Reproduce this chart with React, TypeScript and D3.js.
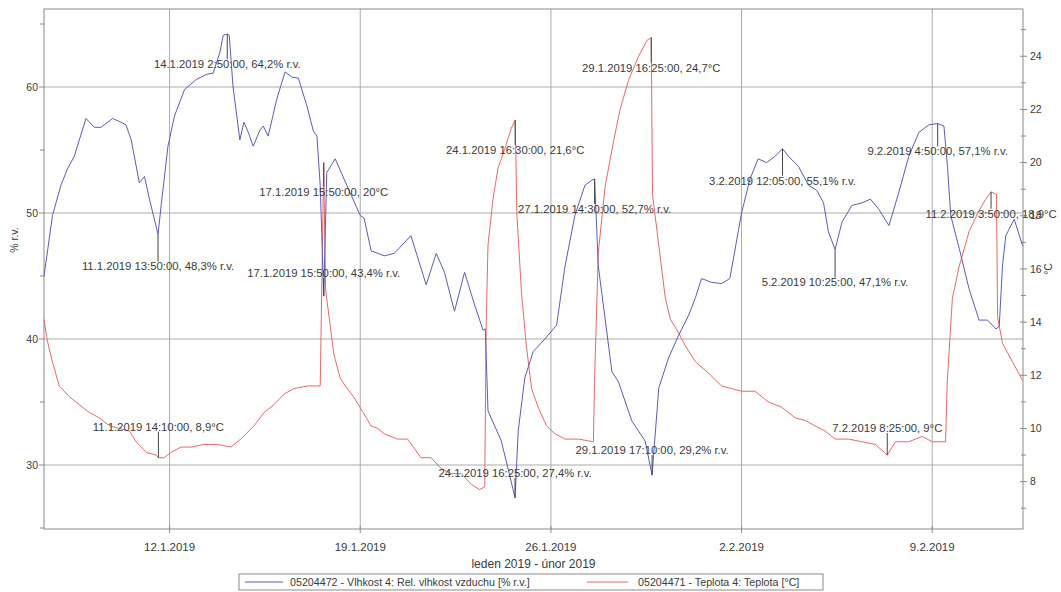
import React from "react";
import * as d3 from "d3";

// time = day number counted from 1 January 2019 (32 = 1 February)
const humDays = [7.39,7.70,8.01,8.25,8.50,8.93,9.24,9.48,9.91,10.22,10.40,10.59,10.89,11.08,11.26,11.576,11.69,11.94,12.18,12.55,12.98,13.35,13.60,13.84,13.97,14.118,14.19,14.33,14.58,14.73,14.89,15.07,15.32,15.44,15.62,15.93,16.24,16.48,16.73,17.04,17.28,17.41,17.53,17.66,17.77,18.08,18.63,19.00,19.14,19.40,19.88,20.25,20.86,21.42,21.79,22.09,22.46,22.83,23.20,23.51,23.59,23.69,24.18,24.684,24.80,25.04,25.35,25.78,26.09,26.21,26.52,26.88,27.25,27.50,27.604,27.74,28.24,28.48,28.97,29.46,29.715,29.96,30.32,30.69,31.06,31.31,31.53,31.89,32.26,32.57,33.00,33.31,33.61,33.92,34.23,34.503,34.72,35.09,35.46,35.76,36.01,36.19,36.434,36.69,37.05,37.42,37.73,38.04,38.41,38.77,39.14,39.51,39.88,40.201,40.43,40.56,40.68,40.99,41.35,41.72,42.03,42.34,42.46,42.58,42.70,43.01,43.32];
const humValues = [45.0,49.8,52.2,53.5,54.5,57.5,56.8,56.8,57.5,57.2,57.0,55.8,52.4,52.9,51.1,48.3,50.6,55.3,57.7,59.8,60.6,61.0,61.1,62.7,64.1,64.2,64.1,60.0,55.8,57.2,56.4,55.3,56.6,56.9,56.1,59.0,61.2,60.8,60.7,58.5,56.5,56.1,52.2,43.4,53.2,54.3,51.6,49.8,49.6,47.0,46.6,46.8,48.2,44.3,46.8,45.3,42.2,45.3,42.7,40.7,40.8,34.3,31.9,27.4,32.7,36.9,39.0,40.0,40.8,41.1,45.8,49.8,52.2,52.6,52.7,45.8,37.4,36.6,33.5,31.9,29.2,36.1,38.5,40.3,41.9,43.3,44.8,44.5,44.4,44.8,50.0,52.7,54.3,54.0,54.5,55.1,54.5,53.7,52.2,51.8,50.8,48.5,47.1,49.3,50.6,50.8,51.1,50.3,49.0,51.6,54.5,56.4,57.0,57.1,56.9,53.7,49.8,47.2,44.0,41.5,41.5,40.8,41.0,45.8,48.2,49.5,47.4];

const tempDays = [7.39,7.51,7.70,7.95,8.31,8.68,9.05,9.42,9.79,10.16,10.53,10.77,11.14,11.50,11.59,11.80,12.05,12.42,12.78,13.27,13.76,14.25,14.61,15.10,15.47,15.84,16.21,16.57,17.06,17.53,17.66,17.70,17.73,18.03,18.26,18.45,18.75,19.11,19.39,19.64,19.88,20.37,20.74,21.23,21.60,21.97,22.34,22.71,23.08,23.38,23.57,23.62,23.69,23.87,24.06,24.30,24.55,24.688,24.75,24.92,25.10,25.29,25.53,25.84,26.15,26.52,27.01,27.56,27.60,27.74,27.99,28.30,28.54,28.85,29.22,29.53,29.684,29.73,29.96,30.20,30.39,30.63,30.94,31.31,31.77,32.26,32.63,33.00,33.49,33.98,34.47,34.97,35.33,35.70,36.07,36.44,36.93,37.42,37.91,38.35,38.65,39.14,39.63,40.00,40.49,40.55,40.74,40.99,41.35,41.72,41.95,42.16,42.36,42.40,42.58,42.95,43.32];
const tempValues = [14.1,13.3,12.5,11.6,11.2,10.9,10.6,10.4,10.1,10.0,9.9,9.5,9.1,9.0,8.9,8.9,9.1,9.3,9.3,9.4,9.4,9.3,9.6,10.1,10.6,10.9,11.3,11.5,11.6,11.6,20.0,17.0,15.2,12.8,11.9,11.6,11.2,10.6,10.1,10.0,9.8,9.6,9.6,8.9,8.9,8.5,8.3,8.3,7.9,7.7,7.8,13.7,16.9,18.6,19.8,20.5,21.3,21.6,18.1,15.1,13.1,11.5,10.8,10.1,9.8,9.6,9.6,9.5,11.7,16.6,19.1,20.8,22.0,23.1,24.0,24.6,24.7,18.8,16.9,14.9,14.1,13.7,13.1,12.5,12.1,11.6,11.5,11.4,11.4,11.0,10.8,10.4,10.3,10.1,9.9,9.6,9.6,9.5,9.4,9.0,9.5,9.5,9.7,9.5,9.5,11.7,14.9,16.1,17.4,18.2,18.6,18.9,18.8,14.2,13.2,12.5,11.8];

const annDays = [14.118,11.576,17.66,17.66,11.59,24.688,24.684,27.604,29.684,29.715,34.503,36.434,38.35,40.201,42.16];
const annSeries = ["hum","hum","temp","hum","temp","temp","hum","hum","temp","hum","hum","hum","temp","hum","temp"];
const annValues = [64.2,48.3,20.0,43.4,8.9,21.6,27.4,52.7,24.7,29.2,55.1,47.1,9.0,57.1,18.9];
const annTexts = [
  "14.1.2019 2:50:00, 64,2% r.v.",
  "11.1.2019 13:50:00, 48,3% r.v.",
  "17.1.2019 15:50:00, 20°C",
  "17.1.2019 15:50:00, 43,4% r.v.",
  "11.1.2019 14:10:00, 8,9°C",
  "24.1.2019 16:30:00, 21,6°C",
  "24.1.2019 16:25:00, 27,4% r.v.",
  "27.1.2019 14:30:00, 52,7% r.v.",
  "29.1.2019 16:25:00, 24,7°C",
  "29.1.2019 17:10:00, 29,2% r.v.",
  "3.2.2019 12:05:00, 55,1% r.v.",
  "5.2.2019 10:25:00, 47,1% r.v.",
  "7.2.2019 8:25:00, 9°C",
  "9.2.2019 4:50:00, 57,1% r.v.",
  "11.2.2019 3:50:00, 18,9°C",
];
// layout: vertical offset of each label from its point (px)
const annOffsets = [30,32,29,-23,-31,30,-25,30,30,-25,32,33,-27,28,22];

const xTickDays = [12, 19, 26, 33, 40];
const xTickLabels = ["12.1.2019", "19.1.2019", "26.1.2019", "2.2.2019", "9.2.2019"];
const leftTicks = [30, 40, 50, 60];
const leftMinorTicks = [25, 35, 45, 55, 65];
const rightTicks = [8, 10, 12, 14, 16, 18, 20, 22, 24];
const rightMinorTicks = [7, 9, 11, 13, 15, 17, 19, 21, 23, 25];

const xTitle = "leden 2019 - únor 2019";
const leftTitle = "% r.v.";
const rightTitle = "°C";
const legendHum = "05204472 - Vlhkost 4: Rel. vlhkost vzduchu [% r.v.]";
const legendTemp = "05204471 - Teplota 4: Teplota [°C]";

const W = 1061, H = 592;
const L = 44, R = 1023, T = 9, B = 529;
const BLUE = "#5c5cb8";
const RED = "#e46a6a";
const GRID = "#ababab";
const AXIS = "#8a8a8a";
const TXT = "#3a3a3a";
const FONT = "'Liberation Sans', Arial, sans-serif";

const dayToDate = (d: number) => new Date(new Date(2019, 0, 1).getTime() + (d - 1) * 86400000);

export default function App() {
  const x = d3.scaleTime().domain([dayToDate(7.389), dayToDate(43.333)]).range([L, R]);
  const yBase = d3.scaleLinear().domain([30, 60]).range([465, 87]);
  const hTop = yBase.invert(T), hBot = yBase.invert(B);
  const yL = d3.scaleLinear().domain([hBot, hTop]).range([B, T]);
  const toT = (h: number) => (h - 11.8) / 2.11;
  const yR = d3.scaleLinear().domain([toT(hBot), toT(hTop)]).range([B, T]);

  const humLine = d3.line<number>().x((_, i) => x(dayToDate(humDays[i]))).y((v) => yL(v));
  const tempLine = d3.line<number>().x((_, i) => x(dayToDate(tempDays[i]))).y((v) => yR(v));

  return (
    <svg width={W} height={H} style={{ position: "absolute", left: 0, top: 0, background: "#fff" }} fontFamily={FONT}>
      <rect x={0} y={0} width={W} height={H} fill="#fff" />
      {/* grid */}
      {xTickDays.map((d, i) => (
        <line key={"gx" + i} x1={x(dayToDate(d))} x2={x(dayToDate(d))} y1={T} y2={B} stroke={GRID} strokeWidth={1} />
      ))}
      {leftTicks.map((v, i) => (
        <line key={"gy" + i} x1={L} x2={R} y1={yL(v)} y2={yL(v)} stroke={GRID} strokeWidth={1} />
      ))}
      {/* frame */}
      <rect x={L} y={T} width={R - L} height={B - T} fill="none" stroke={AXIS} strokeWidth={1} />

      {/* left axis */}
      {leftTicks.map((v, i) => (
        <g key={"lt" + i}>
          <line x1={L - 5} x2={L} y1={yL(v)} y2={yL(v)} stroke={AXIS} />
          <text x={L - 6} y={yL(v)} dy="0.35em" textAnchor="end" fontSize={10.5} fill={TXT}>{v}</text>
        </g>
      ))}
      {leftMinorTicks.filter((v) => v > hBot && v < hTop).map((v, i) => (
        <line key={"lm" + i} x1={L - 4} x2={L} y1={yL(v)} y2={yL(v)} stroke={AXIS} />
      ))}
      <text transform={`translate(14,240) rotate(-90)`} textAnchor="middle" dy="0.35em" fontSize={10.5} fill={TXT}>{leftTitle}</text>

      {/* right axis */}
      {rightTicks.map((v, i) => (
        <g key={"rt" + i}>
          <line x1={R - 3} x2={R + 4} y1={yR(v)} y2={yR(v)} stroke={AXIS} />
          <text x={R + 7} y={yR(v)} dy="0.35em" textAnchor="start" fontSize={10.5} fill={TXT}>{v}</text>
        </g>
      ))}
      {rightMinorTicks.map((v, i) => (
        <line key={"rm" + i} x1={R - 2} x2={R + 3} y1={yR(v)} y2={yR(v)} stroke={AXIS} />
      ))}
      <text transform={`translate(1048,${yR(16)}) rotate(-90)`} textAnchor="middle" dy="0.35em" fontSize={10.5} fill={TXT}>{rightTitle}</text>

      {/* x axis */}
      {xTickDays.map((d, i) => (
        <g key={"xt" + i}>
          <line x1={x(dayToDate(d))} x2={x(dayToDate(d))} y1={B - 3} y2={B + 4} stroke={AXIS} />
          <text x={x(dayToDate(d))} y={B + 18} dy="0.35em" textAnchor="middle" fontSize={11.5} fill={TXT}>{xTickLabels[i]}</text>
        </g>
      ))}
      <text x={(L + R) / 2} y={B + 35} dy="0.35em" textAnchor="middle" fontSize={12} fill={TXT}>{xTitle}</text>

      {/* series */}
      <path d={tempLine(tempValues) || ""} fill="none" stroke={RED} strokeWidth={1} />
      <path d={humLine(humValues) || ""} fill="none" stroke={BLUE} strokeWidth={1} />

      {/* annotations */}
      {annTexts.map((t, i) => {
        const px = x(dayToDate(annDays[i]));
        const py = annSeries[i] === "hum" ? yL(annValues[i]) : yR(annValues[i]);
        const off = annOffsets[i];
        const ty = py + off;
        const end = ty - Math.sign(off) * 5;
        return (
          <g key={"an" + i}>
            <line x1={px} x2={px} y1={py} y2={end} stroke="#444" strokeWidth={1} />
            <text x={px} y={ty} dy="0.35em" textAnchor="middle" fontSize={11.3} fill={TXT}>{t}</text>
          </g>
        );
      })}

      {/* legend */}
      <rect x={239} y={574} width={584} height={16} fill="#fff" stroke={AXIS} strokeWidth={1} />
      <line x1={245} x2={283} y1={582} y2={582} stroke={BLUE} strokeWidth={1} />
      <text x={290} y={582} dy="0.35em" fontSize={10.7} fill={TXT}>{legendHum}</text>
      <line x1={587} x2={628} y1={582} y2={582} stroke={RED} strokeWidth={1} />
      <text x={638} y={582} dy="0.35em" fontSize={10.7} fill={TXT}>{legendTemp}</text>
    </svg>
  );
}
